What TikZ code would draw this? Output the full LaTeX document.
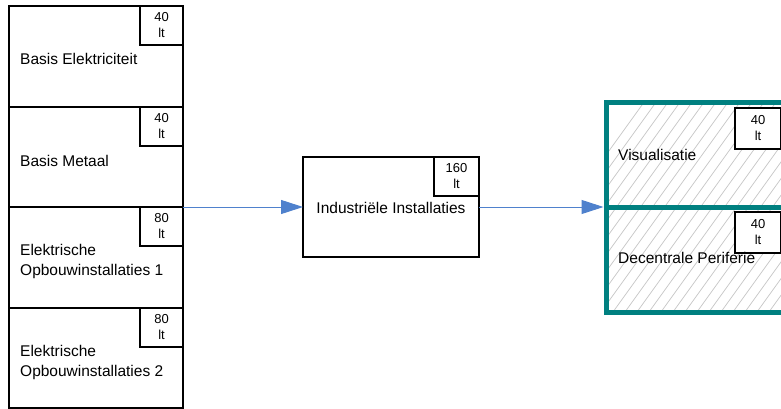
\documentclass[tikz,border=0pt]{standalone}
\usepackage{fontspec}
\setmainfont{Liberation Sans}
\usetikzlibrary{arrows.meta}
\definecolor{arrowblue}{RGB}{79,129,205}
\definecolor{tealb}{RGB}{0,128,128}
\begin{document}
\begin{tikzpicture}[x=1pt,y=-1pt,
  blk/.style={draw=black, line width=2pt, fill=white, anchor=north west, inner sep=0pt, outer sep=0pt},
  tag/.style={draw=black, line width=1.5pt, fill=white, minimum width=43pt, minimum height=39pt, inner sep=0pt, outer sep=0pt, align=center, font=\fontsize{13}{16}\selectfont},
  lbl/.style={anchor=west, align=left, font=\fontsize{15.5}{20}\selectfont, inner sep=0pt},
  conn/.style={draw=arrowblue, line width=1pt, -{Triangle[length=22pt,width=14pt,fill=arrowblue]}},
  hatch/.style={draw=gray!45, line width=0.7pt},
  tealbox/.style={draw=tealb, line width=5pt, anchor=north west, inner sep=0pt, outer sep=0pt}]
\clip (0,0) rectangle (781,409);
\fill[white] (0,0) rectangle (781,409);

% left column
\node[blk, minimum width=174pt, minimum height=101pt] (b1) at (9,6) {};
\node[blk, minimum width=174pt, minimum height=100pt] (b2) at (9,107) {};
\node[blk, minimum width=174pt, minimum height=101pt] (b3) at (9,207) {};
\node[blk, minimum width=174pt, minimum height=100pt] (b4) at (9,308) {};
\node[tag, anchor=north east] (t1) at (b1.north east) {40\\lt};
\node[tag, anchor=north east] (t2) at (b2.north east) {40\\lt};
\node[tag, anchor=north east] (t3) at (b3.north east) {80\\lt};
\node[tag, anchor=north east] (t4) at (b4.north east) {80\\lt};
\node[lbl] (l1) at (20,59) {Basis Elektriciteit};
\node[lbl] (l2) at (20,161) {Basis Metaal};
\node[lbl] (l3) at (20,261) {Elektrische\\Opbouwinstallaties 1};
\node[lbl] (l4) at (20,362) {Elektrische\\Opbouwinstallaties 2};

% middle
\node[blk, minimum width=176pt, minimum height=100pt] (m) at (303,157) {};
\node[tag, anchor=north east, minimum width=45pt] (tm) at (m.north east) {160\\lt};
\node[font=\fontsize{15.5}{20}\selectfont, inner sep=0pt] (lm) at (391,208) {Industriële Installaties};

% right
\begin{scope}
  \clip (606,103) rectangle (800,312);
  \foreach \i in {0,...,30}
    \draw[hatch] (480+\i*12,330) -- ++(180,-250);
\end{scope}
\node[tealbox, minimum width=200pt, minimum height=104pt] (r1) at (606,103) {};
\node[tealbox, minimum width=200pt, minimum height=105pt] (r2) at (606,207) {};
\node[tag, anchor=north west, minimum width=46pt, minimum height=41pt] (tr1) at (735,108) {40\\lt};
\node[tag, anchor=north west, minimum width=46pt, minimum height=41pt] (tr2) at (735,212) {40\\lt};
\node[lbl] (lr1) at (618,155) {Visualisatie};
\node[lbl] (lr2) at (618,258) {Decentrale Periferie};

% connectors
\draw[conn] (b2.south east) -- (m.west);
\draw[conn] (m.east) -- ([xshift=-2.5pt]r2.north west);
\end{tikzpicture}
\end{document}
